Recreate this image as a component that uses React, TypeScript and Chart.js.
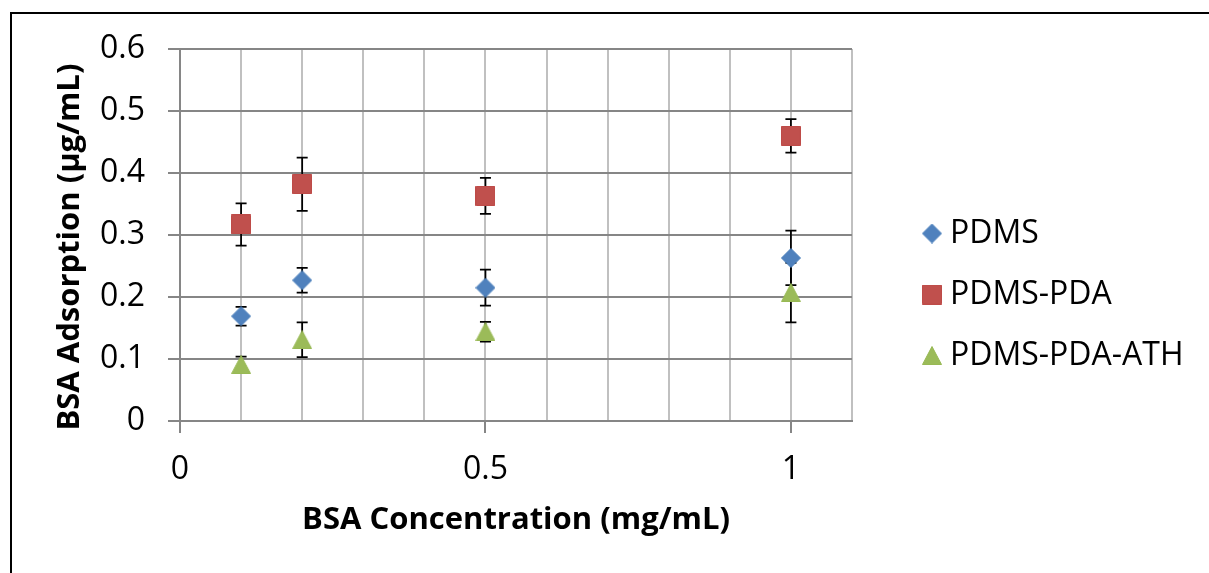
import React, { useEffect, useRef } from 'react';
import { Chart, registerables } from 'chart.js';

Chart.register(...registerables);

// ---- data ----
const concentrations = [0.1, 0.2, 0.5, 1.0];
const seriesNames = ['PDMS', 'PDMS-PDA', 'PDMS-PDA-ATH'];
const pdmsValues = [0.169, 0.227, 0.215, 0.263];
const pdmsErrors = [0.015, 0.02, 0.029, 0.044];
const pdaValues = [0.317, 0.382, 0.363, 0.46];
const pdaErrors = [0.034, 0.043, 0.029, 0.027];
const athValues = [0.091, 0.131, 0.144, 0.207];
const athErrors = [0.013, 0.028, 0.016, 0.048];
const xLabeledTicks = [0, 0.5, 1];
const xAxisTitle = 'BSA Concentration (mg/mL)';
const yAxisTitle = 'BSA Adsorption (µg/mL)';

const valueSets = [pdmsValues, pdaValues, athValues];
const errorSets = [pdmsErrors, pdaErrors, athErrors];
const fillColors = ['#4F81BD', '#C0504D', '#9BBB59'];
const edgeColors = ['#4A7EBB', '#BE4B48', '#98B954'];
const markerShapes = ['diamond', 'square', 'triangle'];

const FONT = 'Open Sans';
const LEGEND_FONT_SIZE = 32;
const LEGEND_PADDING = 29;
const LEGEND_BOX = 4;
const LEGEND_LEFT = 901;
const CANVAS_W = 1209;

function makeMarker(shape: string, fill: string, edge: string): HTMLCanvasElement {
  const c = document.createElement('canvas');
  const w = 20;
  const h = shape === 'triangle' ? 19 : 20;
  c.width = w;
  c.height = h;
  const g = c.getContext('2d')!;
  g.fillStyle = fill;
  g.strokeStyle = edge;
  g.lineWidth = 1;
  g.beginPath();
  if (shape === 'diamond') {
    g.moveTo(10, 0.5);
    g.lineTo(19.5, 10);
    g.lineTo(10, 19.5);
    g.lineTo(0.5, 10);
  } else if (shape === 'square') {
    g.rect(0.5, 0.5, 19, 19);
  } else {
    g.moveTo(10, 0.5);
    g.lineTo(19.5, 18.5);
    g.lineTo(0.5, 18.5);
  }
  g.closePath();
  g.fill();
  g.stroke();
  return c;
}

const isLabeled = (v: number) => xLabeledTicks.some((t) => Math.abs(t - v) < 1e-6);

const errorBarsPlugin = {
  id: 'errorBars',
  beforeDatasetsDraw(chart: any) {
    const { ctx, scales } = chart;
    const x = scales.x;
    const y = scales.y;
    ctx.save();
    ctx.strokeStyle = '#000000';
    ctx.lineWidth = 1.75;
    errorSets.forEach((errs, di) => {
      const vals = valueSets[di];
      concentrations.forEach((c, i) => {
        const px = x.getPixelForValue(c);
        const top = y.getPixelForValue(vals[i] + errs[i]);
        const bot = y.getPixelForValue(vals[i] - errs[i]);
        ctx.beginPath();
        ctx.moveTo(px, top);
        ctx.lineTo(px, bot);
        ctx.moveTo(px - 5.5, top);
        ctx.lineTo(px + 5.5, top);
        ctx.moveTo(px - 5.5, bot);
        ctx.lineTo(px + 5.5, bot);
        ctx.stroke();
      });
    });
    ctx.restore();
  },
};

export default function App() {
  const canvasRef = useRef<HTMLCanvasElement | null>(null);

  useEffect(() => {
    if (!canvasRef.current) return;
    Chart.defaults.color = '#000000';
    const markers = markerShapes.map((s, i) => makeMarker(s, fillColors[i], edgeColors[i]));

    // measure the widest legend label so the legend box starts at a fixed x
    const mctx = document.createElement('canvas').getContext('2d')!;
    mctx.font = `${LEGEND_FONT_SIZE}px ${FONT}`;
    const maxText = Math.max(...seriesNames.map((n) => mctx.measureText(n).width));
    const legendNatural = LEGEND_PADDING + LEGEND_BOX + LEGEND_FONT_SIZE / 2 + maxText + 10;
    const padRight = Math.max(0, CANVAS_W - LEGEND_LEFT - legendNatural);

    const chart = new Chart(canvasRef.current, {
      type: 'scatter',
      data: {
        datasets: seriesNames.map((name, i) => ({
          label: name,
          data: concentrations.map((c, j) => ({ x: c, y: valueSets[i][j] })),
          pointStyle: markers[i] as any,
          pointRadius: 10,
          pointHoverRadius: 10,
          backgroundColor: fillColors[i],
          borderColor: edgeColors[i],
          showLine: false,
        })),
      },
      options: {
        animation: false,
        responsive: false,
        devicePixelRatio: 1,
        events: [],
        layout: { padding: { left: 40, top: 49, right: padRight, bottom: 33 } },
        plugins: {
          tooltip: { enabled: false },
          legend: {
            position: 'right',
            maxWidth: 600,
            labels: {
              usePointStyle: true,
              boxWidth: LEGEND_BOX,
              boxHeight: LEGEND_BOX,
              padding: LEGEND_PADDING,
              color: '#000000',
              font: { family: FONT, size: LEGEND_FONT_SIZE },
            },
          },
        },
        scales: {
          x: {
            type: 'linear',
            position: 'bottom',
            min: 0,
            max: 1.1,
            afterFit: (s: any) => {
              s.height = 119;
            },
            ticks: {
              stepSize: 0.1,
              autoSkip: false,
              maxRotation: 0,
              padding: 18,
              color: '#000000',
              font: { family: FONT, size: 32 },
              callback: (v: any) => (isLabeled(Number(v)) ? String(Math.round(Number(v) * 10) / 10) : ''),
            },
            grid: {
              color: '#C0C0C0',
              lineWidth: 2,
              tickLength: 12,
              tickWidth: 2,
              tickColor: (ctx: any) => (ctx.tick && isLabeled(ctx.tick.value) ? '#868686' : 'rgba(0,0,0,0)'),
            },
            border: { color: '#868686', width: 2 },
            title: {
              display: true,
              text: xAxisTitle,
              color: '#000000',
              font: { family: FONT, size: 31, weight: 'bold' },
              padding: { top: 0, bottom: 1 },
            },
          },
          y: {
            type: 'linear',
            position: 'left',
            min: 0,
            max: 0.6,
            afterFit: (s: any) => {
              s.width = 140;
            },
            ticks: {
              stepSize: 0.1,
              padding: 23,
              color: '#000000',
              font: { family: FONT, size: 32 },
              callback: (v: any) => String(Math.round(Number(v) * 10) / 10),
            },
            grid: { color: '#868686', lineWidth: 2, tickLength: 12, tickWidth: 2, tickColor: '#868686' },
            border: { color: '#868686', width: 2 },
            title: {
              display: true,
              text: yAxisTitle + '   ',
              color: '#000000',
              font: { family: FONT, size: 31, weight: 'bold' },
              padding: { top: 12, bottom: 0 },
            },
          },
          y2: {
            type: 'linear',
            position: 'right',
            display: true,
            afterFit: (s: any) => {
              s.width = LEGEND_LEFT - 852;
            },
            ticks: { display: false },
            grid: { display: false, drawTicks: false },
            border: { display: false },
          },
        },
      } as any,
      plugins: [errorBarsPlugin],
    });

    return () => {
      chart.destroy();
    };
  }, []);

  return (
    <div
      style={{
        position: 'absolute',
        left: 0,
        top: 0,
        width: 1209,
        height: 573,
        background: '#ffffff',
        overflow: 'hidden',
      }}
    >
      <canvas
        ref={canvasRef}
        width={1209}
        height={573}
        style={{ position: 'absolute', left: 0, top: 0, width: 1209, height: 573 }}
      />
      <div style={{ position: 'absolute', left: 10, top: 12, width: 2, height: 561, background: '#000' }} />
      <div style={{ position: 'absolute', left: 10, top: 12, width: 1199, height: 2, background: '#000' }} />
    </div>
  );
}
